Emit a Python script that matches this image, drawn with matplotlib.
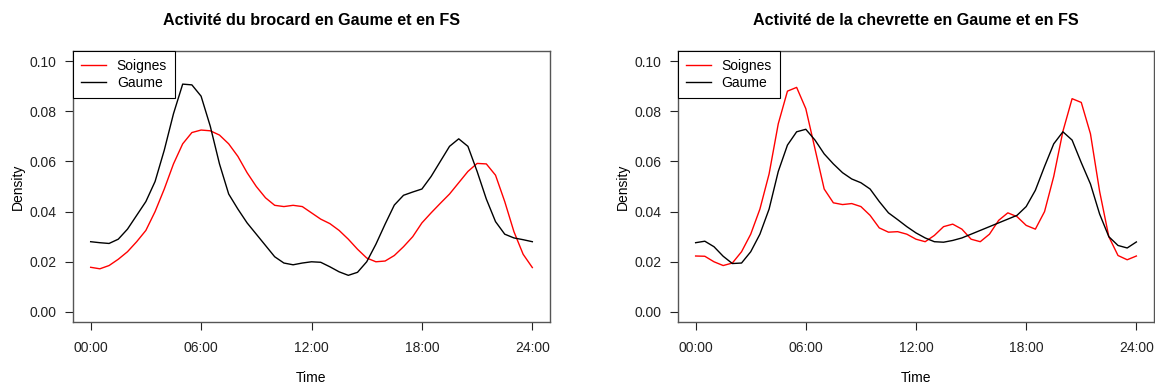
import matplotlib
matplotlib.use("Agg")
import matplotlib.pyplot as plt
import numpy as np

plt.rcParams['font.family'] = ['Liberation Sans', 'DejaVu Sans']

hours = np.arange(0, 24.01, 0.5)
tick_hours = [0, 6, 12, 18, 24]
tick_labels = ["00:00", "06:00", "12:00", "18:00", "24:00"]
y_ticks = [0.00, 0.02, 0.04, 0.06, 0.08, 0.10]

titles = ["Activité du brocard en Gaume et en FS",
          "Activité de la chevrette en Gaume et en FS"]
series_names = ["Soignes", "Gaume"]

brocard_soignes = [0.0178, 0.0172, 0.0185, 0.0210, 0.0240, 0.0280, 0.0325, 0.0400, 0.0490, 0.0590,
                   0.0670, 0.0715, 0.0725, 0.0722, 0.0705, 0.0670, 0.0620, 0.0555, 0.0500, 0.0455,
                   0.0425, 0.0420, 0.0425, 0.0420, 0.0395, 0.0370, 0.0352, 0.0325, 0.0290, 0.0250,
                   0.0215, 0.0200, 0.0203, 0.0225, 0.0260, 0.0300, 0.0355, 0.0395, 0.0433, 0.0470,
                   0.0515, 0.0560, 0.0592, 0.0590, 0.0545, 0.0440, 0.0320, 0.0230, 0.0177]
brocard_gaume = [0.0280, 0.0276, 0.0273, 0.0290, 0.0330, 0.0385, 0.0440, 0.0520, 0.0645, 0.0790,
                 0.0908, 0.0905, 0.0860, 0.0740, 0.0590, 0.0470, 0.0410, 0.0355, 0.0310, 0.0265,
                 0.0220, 0.0195, 0.0188, 0.0195, 0.0200, 0.0198, 0.0180, 0.0160, 0.0146, 0.0158,
                 0.0200, 0.0270, 0.0350, 0.0426, 0.0465, 0.0478, 0.0490, 0.0540, 0.0600, 0.0660,
                 0.0690, 0.0660, 0.0560, 0.0450, 0.0360, 0.0310, 0.0295, 0.0288, 0.0280]
chevrette_soignes = [0.0223, 0.0222, 0.0200, 0.0185, 0.0195, 0.0240, 0.0310, 0.0410, 0.0550, 0.0750,
                     0.0880, 0.0895, 0.0810, 0.0650, 0.0490, 0.0435, 0.0428, 0.0432, 0.0420, 0.0385,
                     0.0335, 0.0318, 0.0320, 0.0310, 0.0290, 0.0280, 0.0305, 0.0340, 0.0350, 0.0330,
                     0.0290, 0.0280, 0.0310, 0.0365, 0.0395, 0.0380, 0.0345, 0.0330, 0.0400, 0.0540,
                     0.0720, 0.0850, 0.0835, 0.0710, 0.0480, 0.0300, 0.0225, 0.0208, 0.0223]
chevrette_gaume = [0.0276, 0.0282, 0.0260, 0.0222, 0.0193, 0.0195, 0.0240, 0.0310, 0.0410, 0.0560,
                   0.0665, 0.0718, 0.0728, 0.0685, 0.0630, 0.0590, 0.0555, 0.0530, 0.0515, 0.0490,
                   0.0440, 0.0395, 0.0368, 0.0340, 0.0315, 0.0295, 0.0280, 0.0278, 0.0285, 0.0295,
                   0.0310, 0.0325, 0.0340, 0.0355, 0.0370, 0.0385, 0.0420, 0.0485, 0.0580, 0.0670,
                   0.0718, 0.0685, 0.0595, 0.0510, 0.0390, 0.0300, 0.0265, 0.0255, 0.0279]

W, H = 1155, 385
fig = plt.figure(figsize=(W / 100, H / 100), dpi=100)

def frac(l, t, r, b):
    return [l / W, 1 - b / H, (r - l) / W, (b - t) / H]

axes_px = [(73, 51, 550, 322), (678, 51, 1154, 322)]
data = [(brocard_soignes, brocard_gaume), (chevrette_soignes, chevrette_gaume)]

for i in range(2):
    ax = fig.add_axes(frac(*axes_px[i]))
    s, g = data[i]
    ax.plot(hours, s, color='#FF0000', lw=1.0, label=series_names[0])
    ax.plot(hours, g, color='black', lw=1.0, label=series_names[1])
    ax.set_xlim(-0.96, 24.96)
    ax.set_ylim(-0.004, 0.104)
    ax.set_xticks(tick_hours)
    ax.set_xticklabels(tick_labels)
    ax.set_yticks(y_ticks)
    ax.set_yticklabels([f"{v:.2f}" for v in y_ticks])
    ax.tick_params(axis='both', direction='out', length=6, width=0.8, labelsize=10, colors='#222222')
    ax.tick_params(axis='x', pad=8)
    ax.tick_params(axis='y', pad=6)
    for sp in ax.spines.values():
        sp.set_color('#555555')
        sp.set_linewidth(1.0)
    ax.set_title(titles[i], fontsize=11.6, fontweight='bold', pad=18.5)
    ax.set_xlabel("Time", fontsize=10, labelpad=11)
    ax.set_ylabel("Density", fontsize=10, labelpad=3)
    leg = ax.legend(loc='upper left', borderaxespad=0, fancybox=False, edgecolor='black',
                    framealpha=1, fontsize=10, handlelength=1.75, handletextpad=0.8,
                    borderpad=0.6, labelspacing=0.2)
    leg.get_frame().set_linewidth(0.8)

fig.savefig("out.png", dpi=100)
